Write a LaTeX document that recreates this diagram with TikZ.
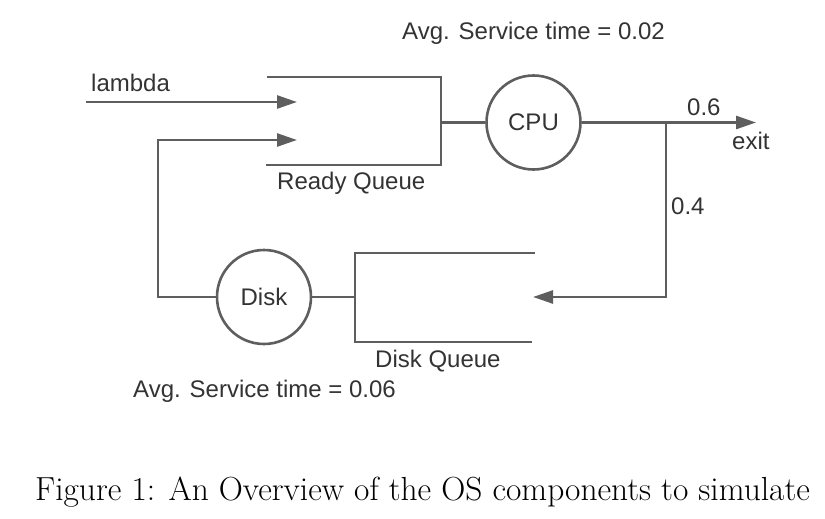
\documentclass[tikz,border=0pt]{standalone}
\usepackage{fontspec}
\newfontfamily\diafont{Liberation Sans}
\usetikzlibrary{arrows.meta}
\definecolor{lineg}{HTML}{5E5E5E}
\definecolor{textg}{HTML}{333333}
\begin{document}
\begin{tikzpicture}[x=1pt,y=-1pt,
  ln/.style={draw=lineg,line width=2.6pt},
  arr/.style={ln,-{Triangle[length=20pt,width=13pt]}},
  srv/.style={circle,draw=lineg,line width=2.6pt,minimum size=94pt,inner sep=0pt,font=\diafont\fontsize{24}{28}\selectfont,text=textg},
  lbl/.style={anchor=base west,inner sep=0pt,font=\diafont\fontsize{24}{28}\selectfont,text=textg}]
\useasboundingbox (0,0) rectangle (825,519);
% Ready queue
\coordinate (rqtl) at (267,77);
\coordinate (rqtr) at (441,77);
\coordinate (rqbl) at (266,165);
\coordinate (rqbr) at (441,165);
\coordinate (rqm) at (441,122.5);
\draw[ln] (rqtl) -- (rqtr) -- (rqbr) -- (rqbl);
% CPU
\node[srv] (cpu) at (533.5,122.5) {CPU};
\draw[ln] (rqm) -- (cpu.west);
\coordinate (lin) at (86,102);
\coordinate (lintip) at (297,102);
\draw[arr] (lin) -- (lintip);
\coordinate (fbtip) at (297,140);
\coordinate (fbc) at (158,140);
% exit
\coordinate (jn) at (666,122.5);
\coordinate (exittip) at (756,122.5);
\draw[arr] (cpu.east) -- (exittip);
\coordinate (jd) at (666,297);
\coordinate (dqtip) at (533,297);
\draw[arr] (jn) -- (jd) -- (dqtip);
% Disk queue
\coordinate (dqtl) at (535,253);
\coordinate (dqtm) at (355,253);
\coordinate (dqbm) at (355,342);
\coordinate (dqbr) at (532,342);
\coordinate (dqm) at (355,297);
\draw[ln] (dqtl) -- (dqtm) -- (dqbm) -- (dqbr);
\node[srv] (disk) at (264,297) {Disk};
\draw[ln] (dqm) -- (disk.east);
\coordinate (dl) at (158,297);
\draw[arr] (disk.west) -- (dl) -- (fbc) -- (fbtip);
% labels
\node[lbl] (lam) at (91,92) {lambda};
\node[lbl] (rql) at (277,189) {Ready Queue};
\node[lbl] (dql) at (375,367) {Disk Queue};
\node[lbl] (avg1) at (402,40) {Avg. Service time = 0.02};
\node[lbl] (avg2) at (133,397) {Avg. Service time = 0.06};
\node[lbl] (p6) at (687,115) {0.6};
\node[lbl] (ex) at (732,149) {exit};
\node[lbl] (p4) at (671,214) {0.4};
\node[anchor=base west,inner sep=0pt,font=\fontsize{33.4}{38}\selectfont] (cap) at (35,500) {Figure 1: An Overview of the OS components to simulate};
\end{tikzpicture}
\end{document}
